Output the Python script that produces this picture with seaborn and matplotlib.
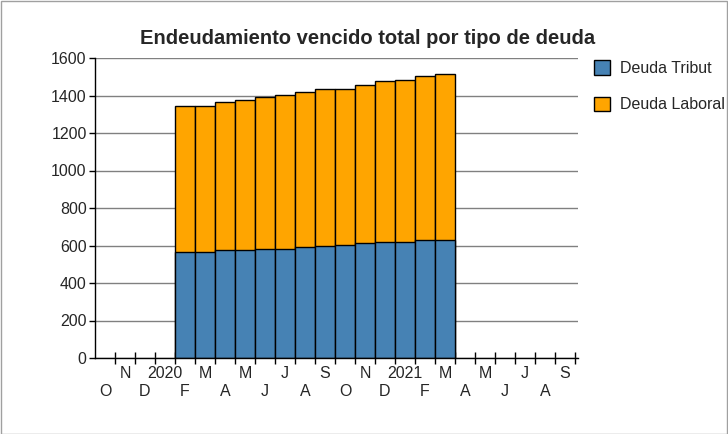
import matplotlib
matplotlib.use("Agg")
import matplotlib.pyplot as plt
import seaborn as sns
import pandas as pd
from matplotlib.patches import Patch, Rectangle

# Data
months = ["O", "N", "D", "2020", "F", "M", "A", "M", "J", "J", "A", "S",
          "O", "N", "D", "2021", "F", "M", "A", "M", "J", "J", "A", "S"]
bar_months = list(range(4, 18))  # Feb 2020 .. Mar 2021 (slot indices)
total = [1345, 1346, 1366, 1375, 1391, 1401, 1419, 1436, 1437, 1456, 1476, 1484, 1504, 1513]
tribut = [563, 566, 574, 575, 583, 584, 591, 600, 602, 611, 620, 620, 627, 628]
series_names = ["Deuda Tribut", "Deuda Laboral"]
colors = ["#4682B4", "#FFA500"]
yticks = [0, 200, 400, 600, 800, 1000, 1200, 1400, 1600]

slots = [str(i) for i in range(len(months))]
df_tot = pd.DataFrame({"slot": [str(i) for i in bar_months], "value": total})
df_tri = pd.DataFrame({"slot": [str(i) for i in bar_months], "value": tribut})

sns.set_style("white")
plt.rcParams["font.family"] = ["Liberation Sans", "DejaVu Sans"]

fig = plt.figure(figsize=(7.28, 4.34), dpi=100)
W, H = 728, 434
ax = fig.add_axes([95 / W, (H - 358) / H, (578 - 95) / W, 300 / H])

sns.barplot(data=df_tot, x="slot", y="value", order=slots, color=colors[1],
            width=1.0, edgecolor="black", linewidth=1.0, saturation=1, ax=ax, zorder=3)
sns.barplot(data=df_tri, x="slot", y="value", order=slots, color=colors[0],
            width=1.0, edgecolor="black", linewidth=1.0, saturation=1, ax=ax, zorder=4)

ax.set_xlim(-0.5, len(months) - 0.35)
ax.set_ylim(0, 1600)
ax.set_xlabel("")
ax.set_ylabel("")

# grid
ax.set_yticks(yticks)
ax.set_yticklabels([str(v) for v in yticks], fontsize=11.5)
ax.yaxis.grid(True, color="#808080", linewidth=1.0, zorder=0)
ax.set_axisbelow(True)
ax.tick_params(axis="y", direction="out", length=4, width=1, color="black", pad=2, left=True)

# x ticks: marks at slot boundaries
ax.set_xticks([i + 0.5 for i in range(len(months))])
ax.set_xticklabels([])
ax.tick_params(axis="x", which="major", direction="inout", length=9, width=1,
               color="black", bottom=True)

# upper row labels (odd slots)
odd = [i for i in range(len(months)) if i % 2 == 1]
even = [i for i in range(len(months)) if i % 2 == 0]
ax.set_xticks(odd, minor=True)
ax.set_xticklabels([months[i] for i in odd], minor=True, fontsize=11.5)
ax.tick_params(axis="x", which="minor", length=0, pad=6, bottom=True)

# lower row labels (even slots)
sec = ax.secondary_xaxis("bottom")
sec.set_xticks(even)
sec.set_xticklabels([months[i] for i in even], fontsize=11.5)
sec.tick_params(axis="x", length=0, pad=19)
sec.spines["bottom"].set_visible(False)

for s in ["top", "right"]:
    ax.spines[s].set_visible(False)
for s in ["left", "bottom"]:
    ax.spines[s].set_color("black")
    ax.spines[s].set_linewidth(1.0)
    ax.spines[s].set_zorder(5)

fig.text(368 / W, 1 - 38 / H, "Endeudamiento vencido total por tipo de deuda",
         ha="center", va="center", fontsize=14.5, fontweight="bold")

handles = [Patch(facecolor=c, edgecolor="black", linewidth=1.0) for c in colors]
fig.legend(handles, series_names, loc="upper left", bbox_to_anchor=(588 / W, 1 - 54 / H),
           frameon=False, fontsize=11.5, handlelength=1.0, handleheight=1.0,
           labelspacing=1.3, handletextpad=0.6, borderaxespad=0)

fig.patches.append(Rectangle((0.5 / W, 0.5 / H), 1 - 1.5 / W, 1 - 1.5 / H,
                             transform=fig.transFigure, fill=False,
                             edgecolor="#a0a0a0", linewidth=1.0))

fig.savefig("out.png", dpi=100)
